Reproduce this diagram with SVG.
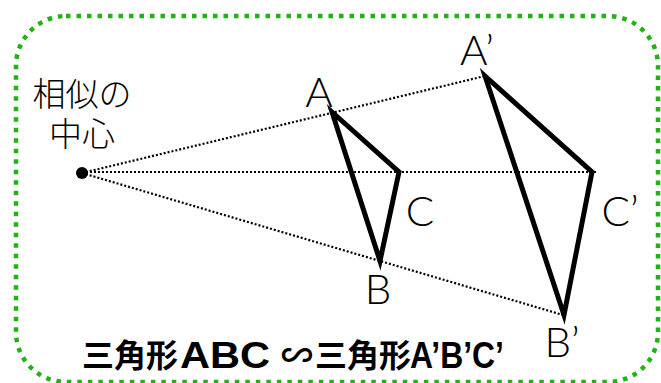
<svg xmlns="http://www.w3.org/2000/svg" width="661" height="383" viewBox="0 0 661 383">
<style>
.frame{fill:none;stroke:#1fb411;stroke-width:4.5;stroke-dasharray:4.5 6}
.ray{fill:none;stroke:#000;stroke-width:2.2;stroke-dasharray:2 2}
.tri{fill:none;stroke:#000;stroke-width:5;stroke-linejoin:miter;stroke-miterlimit:20}
.lbl{font-family:Lato,"Liberation Sans",sans-serif;font-weight:300;font-size:42px;fill:#000;text-anchor:middle}
.jp{font-family:"Noto Sans CJK JP",sans-serif;font-weight:300;font-size:33px;fill:#000;text-anchor:middle}
.cap{font-family:"Liberation Sans","Noto Sans CJK JP",sans-serif;font-weight:bold;font-size:37px;fill:#000}
.capj{font-family:"Noto Sans CJK JP",sans-serif;font-weight:bold;font-size:32px;fill:#000}
</style>
<rect class="frame" x="16" y="16" width="642" height="366" rx="50" ry="50"/>
<g id="connectors">
<line class="ray" x1="82" y1="173" x2="485" y2="76"/>
<line class="ray" x1="82" y1="172" x2="598" y2="172"/>
<line class="ray" x1="82" y1="173" x2="563" y2="315"/>
</g>
<g id="center">
<circle cx="82" cy="173" r="6" fill="#000"/>
<text class="jp"><tspan x="82" y="106">相似の</tspan><tspan x="82" y="146">中心</tspan></text>
</g>
<g id="triangleABC">
<polygon class="tri" points="332,112 399,172 380,261"/>
<text class="lbl" x="319" y="107">A</text>
<text class="lbl" x="420" y="226">C</text>
<text class="lbl" x="378" y="304">B</text>
</g>
<g id="triangleA2B2C2">
<polygon class="tri" points="485,76 592,172 564,315"/>
<text class="lbl" x="477" y="65">A’</text>
<text class="lbl" x="620" y="226">C’</text>
<text class="lbl" x="562" y="357">B’</text>
</g>
<g id="caption">
<text class="capj" x="82" y="367">三角形</text>
<text class="cap" x="180" y="368" textLength="90" lengthAdjust="spacingAndGlyphs">ABC</text>
<text class="capj" x="297" y="367" text-anchor="middle">∽</text>
<text class="capj" x="315" y="367">三角形</text>
<text class="cap" x="410" y="368" textLength="94" lengthAdjust="spacingAndGlyphs">A’B’C’</text>
</g>
</svg>
